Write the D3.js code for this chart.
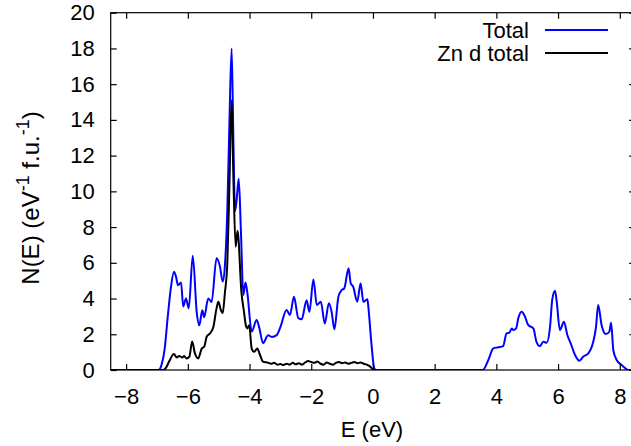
<!DOCTYPE html>
<html>
<head>
<meta charset="utf-8">
<script src="https://cdn.jsdelivr.net/npm/d3@7"></script>
<style>
  html, body { margin: 0; padding: 0; background: #fff; }
  svg text { font-family: "Liberation Sans", Arial, sans-serif; fill: #000; }
</style>
</head>
<body>
<svg id="chart" width="631" height="446"></svg>
<script>
// ---- data ----
const xTicks = [-8, -6, -4, -2, 0, 2, 4, 6, 8];
const yTicks = [0, 2, 4, 6, 8, 10, 12, 14, 16, 18, 20];
const seriesNames = ["Total", "Zn d total"];
const seriesColors = ["#0000ff", "#000000"];

const totalE = [-8.5,-6.95,-6.85,-6.75,-6.65,-6.55,-6.45,-6.38,-6.32,-6.22,-6.15,-6.06,-5.97,-5.84,-5.71,-5.63,-5.53,-5.47,-5.34,-5.23,-5.07,-4.96,-4.87,-4.8,-4.72,-4.65,-4.58,-4.52,-4.47,-4.42,-4.35,-4.28,-4.2,-4.13,-4.07,-3.93,-3.77,-3.69,-3.56,-3.4,-3.28,-3.12,-3.0,-2.8,-2.69,-2.56,-2.42,-2.31,-2.15,-2.06,-1.93,-1.82,-1.69,-1.56,-1.43,-1.34,-1.25,-1.12,-1.01,-0.93,-0.79,-0.72,-0.64,-0.51,-0.4,-0.31,-0.18,-0.15,-0.05,0.04,0.1,3.56,3.74,3.9,4.06,4.22,4.33,4.42,4.5,4.55,4.64,4.71,4.82,4.93,5.03,5.2,5.3,5.41,5.52,5.63,5.74,5.81,5.9,5.95,6.06,6.19,6.3,6.41,6.55,6.69,6.82,6.98,7.14,7.23,7.3,7.41,7.55,7.66,7.72,7.79,7.9,8.06,8.28,8.5];
const totalN = [0,0,0.3,1.2,3.0,4.6,5.5,5.2,4.75,4.9,3.55,4.0,3.45,6.4,3.2,2.5,3.35,2.95,4.0,3.8,6.25,5.8,4.95,5.8,9.0,14.0,18.0,12.5,8.9,9.5,10.7,7.8,4.2,4.9,4.3,2.15,2.8,2.4,1.5,1.95,1.85,1.95,2.4,3.36,3.08,4.1,2.9,2.84,3.9,3.26,5.07,3.64,3.82,2.6,3.73,3.26,2.28,4.1,4.48,4.57,5.69,4.85,4.66,3.82,4.85,3.82,3.96,3.55,1.5,0.1,0,0,0.56,1.21,1.27,1.34,2.05,2.09,2.33,2.24,2.33,2.89,3.26,2.98,2.52,2.33,1.58,1.34,1.58,1.53,2.42,3.92,4.44,3.92,2.24,2.7,1.96,1.49,0.84,0.52,0.75,0.93,1.58,2.42,3.64,2.52,2.01,2.14,2.65,1.12,0.56,0.28,0,0];

const zndE = [-8.5,-6.8,-6.7,-6.6,-6.45,-6.36,-6.28,-6.18,-6.12,-6.04,-5.95,-5.86,-5.77,-5.66,-5.55,-5.47,-5.39,-5.28,-5.17,-5.07,-5.01,-4.93,-4.87,-4.8,-4.72,-4.65,-4.58,-4.52,-4.45,-4.39,-4.26,-4.18,-4.12,-4.07,-4.01,-3.93,-3.85,-3.75,-3.66,-3.56,-3.4,-3.3,-3.2,-3.1,-3.0,-2.9,-2.8,-2.7,-2.6,-2.5,-2.4,-2.3,-2.2,-2.1,-2.0,-1.9,-1.8,-1.7,-1.6,-1.5,-1.4,-1.3,-1.2,-1.1,-1.0,-0.9,-0.8,-0.7,-0.6,-0.5,-0.4,-0.3,-0.2,-0.1,0.02,0.1];
const zndN = [0,0,0.15,0.5,0.9,0.7,0.78,0.7,0.78,0.65,0.75,1.6,0.93,0.65,1.2,1.3,1.86,2.05,2.42,3.45,3.82,3.36,3.17,4.3,6.0,10.5,15.1,10.5,6.9,7.8,4.3,3.26,2.5,2.33,2.5,1.2,1.02,1.2,0.84,0.46,0.41,0.35,0.4,0.3,0.33,0.28,0.35,0.3,0.4,0.32,0.38,0.3,0.42,0.5,0.45,0.4,0.48,0.35,0.3,0.42,0.35,0.3,0.4,0.45,0.38,0.42,0.35,0.4,0.45,0.38,0.42,0.35,0.3,0.2,0.02,0];

// ---- layout ----
const svg = d3.select("#chart");
const mLeft = 110.7, mTop = 12.7, mBottom = 370, mRight = 635.2;
const x = d3.scaleLinear().domain([-8.5, 8.5]).range([mLeft, mRight]);
const y = d3.scaleLinear().domain([0, 20]).range([mBottom, mTop]);

const tickLen = 6;
const fontSize = 22;

// clip
svg.append("defs").append("clipPath").attr("id", "clip")
  .append("rect").attr("x", mLeft).attr("y", mTop).attr("width", mRight - mLeft).attr("height", mBottom - mTop);

// curves
const line = d3.line().x(d => x(d[0])).y(d => y(d[1])).curve(d3.curveMonotoneX);
const totalData = totalE.map((e, i) => [e, totalN[i]]);
const zndData = zndE.map((e, i) => [e, zndN[i]]);

const plot = svg.append("g").attr("clip-path", "url(#clip)");
plot.append("path").datum(totalData).attr("d", line)
  .attr("fill", "none").attr("stroke", seriesColors[0]).attr("stroke-width", 2).attr("stroke-linejoin", "round");
plot.append("path").datum(zndData).attr("d", line)
  .attr("fill", "none").attr("stroke", seriesColors[1]).attr("stroke-width", 2).attr("stroke-linejoin", "round");

// axes (ticks inward, mirrored)
const axB = d3.axisBottom(x).tickValues(xTicks).tickSize(-tickLen).tickPadding(18).tickFormat(d3.format("d"));
const axT = d3.axisTop(x).tickValues(xTicks).tickSize(-tickLen).tickFormat("");
const axL = d3.axisLeft(y).tickValues(yTicks).tickSize(-tickLen).tickPadding(16).tickFormat(d3.format("d"));
const axR = d3.axisRight(y).tickValues(yTicks).tickSize(-tickLen).tickFormat("");

function styleAxis(g) {
  g.select(".domain").remove();
  g.selectAll(".tick line").attr("stroke", "#000").attr("stroke-width", 1.2);
  g.selectAll(".tick text").attr("font-size", fontSize).attr("font-family", "Liberation Sans, Arial, sans-serif").attr("fill", "#000");
}
svg.append("g").attr("transform", `translate(0,${mBottom})`).call(axB).call(styleAxis);
svg.append("g").attr("transform", `translate(0,${mTop})`).call(axT).call(styleAxis);
svg.append("g").attr("transform", `translate(${mLeft},0)`).call(axL).call(styleAxis);
svg.append("g").attr("transform", `translate(${mRight},0)`).call(axR).call(styleAxis);

// frame
svg.append("rect").attr("x", mLeft).attr("y", mTop).attr("width", mRight - mLeft).attr("height", mBottom - mTop)
  .attr("fill", "none").attr("stroke", "#000").attr("stroke-width", 1.2);

// axis labels
svg.append("text").attr("x", 372).attr("y", 437).attr("text-anchor", "middle").attr("font-size", fontSize).text("E (eV)");

const yl = svg.append("text").attr("transform", "translate(39,198) rotate(-90)").attr("text-anchor", "middle").attr("font-size", 24);
yl.append("tspan").text("N(E) (eV");
yl.append("tspan").attr("font-size", 18).attr("dy", -10).text("-1");
yl.append("tspan").attr("dy", 10).text(" f.u.");
yl.append("tspan").attr("font-size", 18).attr("dy", -10).text("-1");
yl.append("tspan").attr("dy", 10).text(")");

// legend
const legY = [30, 53];
seriesNames.forEach((name, i) => {
  svg.append("text").attr("x", 529).attr("y", legY[i]).attr("dy", "0.35em").attr("text-anchor", "end")
    .attr("font-size", fontSize).text(name);
  svg.append("line").attr("x1", 545).attr("x2", 608).attr("y1", legY[i]).attr("y2", legY[i])
    .attr("stroke", seriesColors[i]).attr("stroke-width", 2);
});
</script>
</body>
</html>
